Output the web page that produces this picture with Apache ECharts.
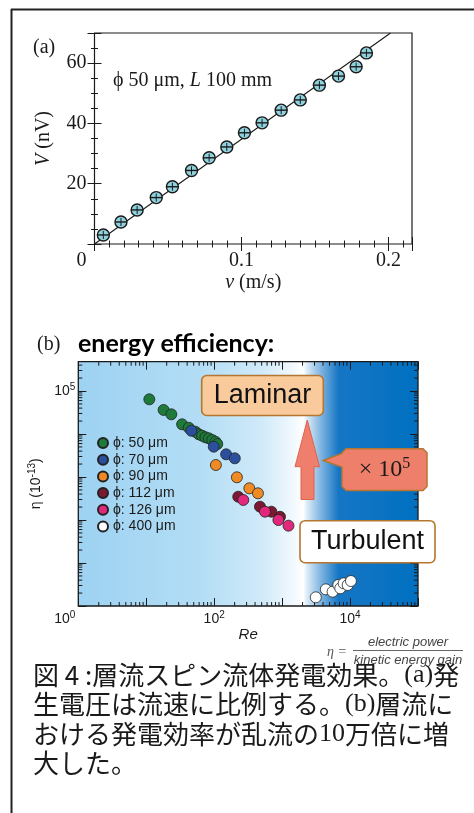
<!DOCTYPE html>
<html><head><meta charset="utf-8">
<script src="https://cdn.jsdelivr.net/npm/echarts@6/dist/echarts.min.js"></script>
<style>html,body{margin:0;padding:0;background:#fff;}#c{width:474px;height:813px;}</style>
</head><body><div id="c"></div><script>
// ---------- Panel (a) data ----------
const velocity = [0.006, 0.018, 0.029, 0.042, 0.053, 0.066, 0.078, 0.090, 0.102, 0.114, 0.127, 0.140, 0.153, 0.166, 0.178, 0.185];
const voltage  = [3.0, 7.3, 11.3, 15.4, 19.0, 24.4, 28.6, 32.2, 36.9, 40.2, 44.4, 47.8, 52.7, 55.7, 58.8, 63.4];
const fitVelocity = [0, 0.2014];
const fitVoltage  = [0, 70];
const xTickLabelsA = ['0', '0.1', '0.2'];
const yTickLabelsA = ['20', '40', '60'];

// ---------- Panel (b) data ----------
const seriesNames = ['ϕ: 50 μm', 'ϕ: 70 μm', 'ϕ: 90 μm', 'ϕ: 112 μm', 'ϕ: 126 μm', 'ϕ: 400 μm'];
const re50  = [11.1, 18.0, 23.4, 33.7, 42.2, 52.9, 59.3, 66.5, 74.4, 83.2, 93.4, 104.5, 111];
const eta50 = [64100, 36200, 28700, 16800, 14000, 11300, 9840, 9130, 8380, 7940, 7250, 6620, 5850];
const re70  = [46.2, 98.6, 150, 201];
const eta70 = [11900, 5070, 3370, 2720];
const re90  = [106, 216, 329, 441];
const eta90 = [1900, 984, 546, 418];
const re112  = [226, 472, 695, 931];
const eta112 = [348, 204, 156, 119];
const re126  = [268, 559, 881, 1240];
const eta126 = [292, 156, 100, 73.7];
const re400  = [3130, 4400, 5530, 6700, 7170, 8050, 9220, 10300];
const eta400 = [1.59, 2.44, 2.15, 3.08, 2.58, 3.37, 3.08, 3.81];
const seriesColors = ['#1d7a3b', '#2b4f9e', '#ef8a25', '#7b1832', '#e2287c', '#ffffff'];
const xLogLabelExp = [2, 4];
const yLogLabelExp = [5];
const cornerLabelExp = [0];
const logMinorMultipliers = [2, 3, 4, 5, 6, 7, 8, 9];
const xLogDecades = [0, 1, 2, 3, 4];
const yLogDecades = [0, 1, 2, 3, 4, 5];

const chart = echarts.init(document.getElementById('c'), null, {renderer: 'canvas'});

const serif = 'Liberation Serif';
const sans = 'Liberation Sans';
const ink = '#1a1a1a';

function pair(xs, ys) { return xs.map((x, i) => [x, ys[i]]); }
function expOf(v) { return Math.round(Math.log10(v)); }
const supRich = {
  b: {fontSize: 14, fontFamily: sans, color: ink},
  s: {fontSize: 10, fontFamily: sans, color: ink, padding: [0, 0, 8, 0]}
};

function linX(extra) {
  return Object.assign({type: 'value', gridIndex: 0, min: 0, max: 0.216,
    axisLine: {show: false}, splitLine: {show: false}, axisLabel: {show: false}}, extra);
}
function linY(extra) {
  return Object.assign({type: 'value', gridIndex: 0, min: 0, max: 70,
    axisLine: {show: false}, splitLine: {show: false}, axisLabel: {show: false}}, extra);
}
const majTick = {show: true, inside: true, length: 7, lineStyle: {color: ink, width: 1}};
const minTick = {show: true, inside: true, length: 3.5, lineStyle: {color: ink, width: 1}};
const logTick = {show: true, inside: true, length: 8, lineStyle: {color: ink, width: 1}};

function logX(extra) {
  return Object.assign({type: 'log', logBase: 10, gridIndex: 1, min: 1, max: 1e5,
    axisLine: {show: false}, splitLine: {show: false}, minorSplitLine: {show: false},
    axisTick: logTick, minorTick: {show: false}, axisLabel: {show: false}}, extra);
}
function logY(extra) {
  return Object.assign({type: 'log', logBase: 10, gridIndex: 1, min: 1, max: 480000,
    axisLine: {show: false}, splitLine: {show: false}, minorSplitLine: {show: false},
    axisTick: logTick, minorTick: {show: false}, axisLabel: {show: false}}, extra);
}

// minor tick values for the log axes (2..9 x 10^n)
const minorTickData = [];
xLogDecades.forEach(e => logMinorMultipliers.forEach(m => minorTickData.push([m * Math.pow(10, e), 1, 0])));
yLogDecades.forEach(e => logMinorMultipliers.forEach(m => { const v = m * Math.pow(10, e); if (v < 480000) minorTickData.push([1, v, 1]); }));

const gridBg = new echarts.graphic.LinearGradient(0, 0, 1, 0, [
  {offset: 0, color: '#9dd2f2'},
  {offset: 0.36, color: '#b3ddf5'},
  {offset: 0.54, color: '#d0eaf9'},
  {offset: 0.63, color: '#f0f8fd'},
  {offset: 0.662, color: '#ffffff'},
  {offset: 0.672, color: '#dcecf8'},
  {offset: 0.712, color: '#82b6e1'},
  {offset: 0.765, color: '#1676c5'},
  {offset: 1, color: '#0070c0'}
]);

const option = {
  animation: false,
  backgroundColor: '#ffffff',
  grid: [
    {left: 94.5, top: 33, width: 317.5, height: 211, show: true, borderColor: ink, borderWidth: 1.2,
     backgroundColor: 'transparent', containLabel: false, outerBoundsMode: 'none'},
    {left: 78.3, top: 361.7, width: 339.7, height: 244.3, show: true, borderColor: ink, borderWidth: 1.3,
     backgroundColor: gridBg, containLabel: false, outerBoundsMode: 'none'}
  ],
  xAxis: [
    linX({position: 'bottom', interval: 0.1, axisTick: majTick,
      axisLabel: {show: true, margin: 7, fontFamily: serif, fontSize: 20, color: ink,
        formatter: v => { const s = String(Math.round(v * 1000) / 1000); return (s !== '0' && xTickLabelsA.includes(s)) ? s : ''; }},
      name: '{i|v} (m/s)', nameLocation: 'middle', nameGap: 29,
      nameTextStyle: {fontFamily: serif, fontSize: 20, color: ink, rich: {i: {fontFamily: serif, fontSize: 20, fontStyle: 'italic', color: ink}}}}),
    linX({position: 'bottom', interval: 0.01, axisTick: minTick}),
    linX({position: 'top', interval: 0.1, axisTick: majTick}),
    linX({position: 'top', interval: 0.01, axisTick: minTick}),
    linX({position: 'bottom', interval: 0.1, axisTick: {show: false},
      axisLabel: {show: true, margin: 7, fontFamily: serif, fontSize: 20, color: ink, align: 'right', padding: [0, 8, 0, 0],
        formatter: v => { const s = String(Math.round(v * 1000) / 1000); return (s === '0' && xTickLabelsA.includes(s)) ? s : ''; }}}),
    logX({position: 'bottom',
      axisLabel: {show: true, margin: 4, formatter: v => xLogLabelExp.includes(expOf(v)) ? '{b|10}{s|' + expOf(v) + '}' : '', rich: supRich},
      name: 'Re', nameLocation: 'middle', nameGap: 21,
      nameTextStyle: {fontFamily: sans, fontSize: 15, fontStyle: 'italic', color: ink}}),
    logX({position: 'top'}),
    logX({position: 'bottom', axisTick: {show: false},
      axisLabel: {show: true, margin: 4, align: 'right', padding: [0, 3, 0, 0],
        formatter: v => cornerLabelExp.includes(expOf(v)) ? '{b|10}{s|' + expOf(v) + '}' : '', rich: supRich}})
  ],
  yAxis: [
    linY({position: 'left', interval: 20, axisTick: majTick,
      axisLabel: {show: true, margin: 8, fontFamily: serif, fontSize: 20, color: ink,
        formatter: v => yTickLabelsA.includes(String(v)) ? String(v) : ''},
      name: '{i|V} (nV)', nameLocation: 'middle', nameGap: 41,
      nameTextStyle: {fontFamily: serif, fontSize: 20, color: ink, rich: {i: {fontFamily: serif, fontSize: 20, fontStyle: 'italic', color: ink}}}}),
    linY({position: 'left', interval: 5, axisTick: minTick}),
    linY({position: 'right', interval: 20, axisTick: majTick}),
    linY({position: 'right', interval: 5, axisTick: minTick}),
    logY({position: 'left',
      axisLabel: {show: true, margin: 3, formatter: v => yLogLabelExp.includes(expOf(v)) ? '{b|10}{s|' + expOf(v) + '}' : '', rich: supRich},
      name: 'η (10{s|-13})', nameLocation: 'middle', nameGap: 21,
      nameTextStyle: {fontFamily: sans, fontSize: 14, color: ink, rich: {s: {fontSize: 10, fontFamily: sans, color: ink, padding: [0, 0, 8, 0]}}}}),
    logY({position: 'right'})
  ],
  legend: {
    show: true, orient: 'vertical', left: 92, top: 430,
    itemWidth: 10, itemHeight: 10, itemGap: 0.7, icon: 'circle',
    textStyle: {fontFamily: sans, fontSize: 14, color: ink, lineHeight: 16},
    data: seriesNames, selectedMode: false
  },
  series: [
    {type: 'line', xAxisIndex: 0, yAxisIndex: 0, data: pair(fitVelocity, fitVoltage), symbol: 'none',
     lineStyle: {color: ink, width: 1.1}, z: 2, silent: true},
    {type: 'custom', xAxisIndex: 0, yAxisIndex: 0, data: pair(velocity, voltage), z: 3,
     renderItem: function (params, api) {
       const p = api.coord([api.value(0), api.value(1)]);
       const r = 6;
       return {type: 'group', children: [
         {type: 'circle', shape: {cx: p[0], cy: p[1], r: r}, style: {fill: '#8fd2de', stroke: ink, lineWidth: 1.4}},
         {type: 'line', shape: {x1: p[0] - r, y1: p[1], x2: p[0] + r, y2: p[1]}, style: {stroke: ink, lineWidth: 1.4}},
         {type: 'line', shape: {x1: p[0], y1: p[1] - 4, x2: p[0], y2: p[1] + 4}, style: {stroke: ink, lineWidth: 1}}
       ]};
     }},
    {type: 'custom', xAxisIndex: 5, yAxisIndex: 4, data: minorTickData, z: 2, silent: true, clip: false,
     renderItem: function (params, api) {
       const cs = params.coordSys;
       const L = 4;
       if (api.value(2) === 0) {
         const x = api.coord([api.value(0), 1])[0];
         return {type: 'group', children: [
           {type: 'line', shape: {x1: x, y1: cs.y + cs.height, x2: x, y2: cs.y + cs.height - L}, style: {stroke: ink, lineWidth: 1}},
           {type: 'line', shape: {x1: x, y1: cs.y, x2: x, y2: cs.y + L}, style: {stroke: ink, lineWidth: 1}}
         ]};
       }
       const y = api.coord([1, api.value(1)])[1];
       return {type: 'group', children: [
         {type: 'line', shape: {x1: cs.x, y1: y, x2: cs.x + L, y2: y}, style: {stroke: ink, lineWidth: 1}},
         {type: 'line', shape: {x1: cs.x + cs.width, y1: y, x2: cs.x + cs.width - L, y2: y}, style: {stroke: ink, lineWidth: 1}}
       ]};
     }}
  ].concat([
    [re50, eta50], [re70, eta70], [re90, eta90], [re112, eta112], [re126, eta126], [re400, eta400]
  ].map((d, i) => ({
    type: 'scatter', name: seriesNames[i], xAxisIndex: 5, yAxisIndex: 4,
    data: pair(d[0], d[1]), symbol: 'circle', symbolSize: 11, z: 3 + i,
    itemStyle: {color: seriesColors[i], borderColor: '#222', borderWidth: 0.8, opacity: 1}
  }))),
  graphic: [
    {type: 'line', shape: {x1: 11, y1: 9.5, x2: 474, y2: 9.5}, style: {stroke: '#222', lineWidth: 2}, z: 100},
    {type: 'line', shape: {x1: 11.5, y1: 9, x2: 11.5, y2: 813}, style: {stroke: '#222', lineWidth: 2}, z: 100},
    {type: 'text', x: 33, y: 48, style: {text: '(a)', font: '20px "Liberation Serif"', fill: ink, verticalAlign: 'middle'}, z: 100},
    {type: 'text', x: 113, y: 81, style: {text: 'ϕ 50 μm, {i|L} 100 mm', font: '20px "Liberation Serif"', fill: ink, verticalAlign: 'middle',
      rich: {i: {fontStyle: 'italic', fontFamily: serif, fontSize: 20, fill: ink}}}, z: 100},
    {type: 'text', x: 37, y: 345, style: {text: '(b)', font: '20px "Liberation Serif"', fill: ink, verticalAlign: 'middle'}, z: 100},
    {type: 'text', x: 78, y: 344, style: {text: 'energy efficiency:', font: 'bold 25px Lato', fill: '#000', verticalAlign: 'middle'}, z: 100},
    {type: 'rect', shape: {x: 201.7, y: 375.5, width: 121.6, height: 40, r: 5}, style: {fill: '#f9cb9c', stroke: '#b5762f', lineWidth: 1.6}, z: 100},
    {type: 'text', x: 262.5, y: 396, style: {text: 'Laminar', font: '27px "Liberation Sans"', fill: '#111', align: 'center', verticalAlign: 'middle'}, z: 101},
    {type: 'polygon', shape: {points: [[307.3, 420], [319.5, 466.7], [314, 466.7], [314, 499.5], [301, 499.5], [301, 466.7], [295, 466.7]]},
     style: {fill: '#ef7e6c', stroke: '#e2614f', lineWidth: 1}, z: 100},
    {type: 'polygon', shape: {points: [[346, 448.7], [423, 448.7], [427, 452.7], [427, 486.5], [423, 490.5], [346, 490.5], [342, 486.5],
      [342, 467], [323.3, 460.5], [342, 453.5], [342, 452.7]]},
     style: {fill: '#ee7f6b', stroke: '#b5762f', lineWidth: 1.5}, z: 100},
    {type: 'text', x: 384.5, y: 470, style: {text: '× 10{s|5}', font: '24px "Liberation Serif"', fill: '#1a1a1a', align: 'center', verticalAlign: 'middle',
      rich: {s: {fontFamily: serif, fontSize: 16, fill: '#1a1a1a', padding: [0, 0, 12, 0]}}}, z: 101},
    {type: 'rect', shape: {x: 300, y: 520.7, width: 135, height: 42, r: 5}, style: {fill: '#ffffff', stroke: '#b5762f', lineWidth: 1.6}, z: 100},
    {type: 'text', x: 367.5, y: 542, style: {text: 'Turbulent', font: '27px "Liberation Sans"', fill: '#111', align: 'center', verticalAlign: 'middle'}, z: 101},
    {type: 'text', x: 337, y: 652, style: {text: 'η =', font: 'italic 14px "Liberation Serif"', fill: '#555', align: 'center', verticalAlign: 'middle'}, z: 100},
    {type: 'text', x: 408, y: 642, style: {text: 'electric power', font: 'italic 13px "Liberation Sans"', fill: '#444', align: 'center', verticalAlign: 'middle'}, z: 100},
    {type: 'line', shape: {x1: 353, y1: 650.5, x2: 463, y2: 650.5}, style: {stroke: '#666', lineWidth: 1}, z: 100},
    {type: 'text', x: 408, y: 660, style: {text: 'kinetic energy gain', font: 'italic 13px "Liberation Sans"', fill: '#444', align: 'center', verticalAlign: 'middle'}, z: 100},
    {type: 'text', x: 33, y: 660, style: {
      text: '図 4 :層流スピン流体発電効果。{s|(a)}発\n生電圧は流速に比例する。{s|(b)}層流に\nおける発電効率が乱流の{s|10}万倍に増\n大した。',
      font: '26px "Noto Sans CJK JP"', fill: '#1a1a1a', lineHeight: 29.5,
      rich: {s: {fontFamily: serif, fontSize: 26, fill: '#1a1a1a', lineHeight: 29.5}}}, z: 100}
  ]
};
chart.setOption(option);
</script></body></html>
